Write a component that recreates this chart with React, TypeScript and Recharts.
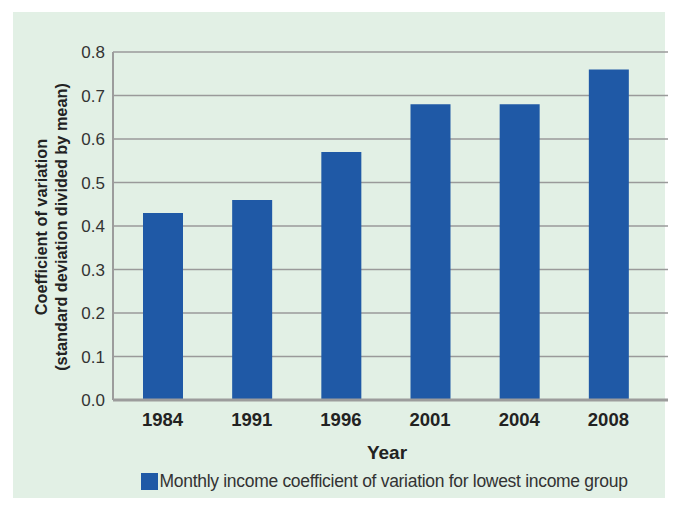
import React from "react";
import { BarChart, Bar, XAxis, YAxis, CartesianGrid } from "recharts";

const years = ["1984", "1991", "1996", "2001", "2004", "2008"];
const coefficients = [0.43, 0.46, 0.57, 0.68, 0.68, 0.76];
const yTicks = [0, 0.1, 0.2, 0.3, 0.4, 0.5, 0.6, 0.7, 0.8];
const seriesName = "Monthly income coefficient of variation for lowest income group";
const yTitle = ["Coefficient of variation", "(standard deviation divided by mean)"];
const xTitle = "Year";

const data = years.map((y, i) => ({ year: y, value: coefficients[i] }));

const FONT = "'Liberation Sans', Arial, Helvetica, sans-serif";
const BLUE = "#1f59a6";
const BG = "#e2f0e5";

const YTitle = (props: any) => {
  const vb = props.viewBox || {};
  const cy = vb.y + vb.height / 2 + 1;
  return (
    <g transform={`translate(0, ${cy}) rotate(-90)`}>
      <text textAnchor="middle" fontFamily={FONT} fontWeight="bold" fontSize={16.3} fill="#222">
        <tspan x={0} y={46.5}>{yTitle[0]}</tspan>
        <tspan x={0} y={66.5}>{yTitle[1]}</tspan>
      </text>
    </g>
  );
};

export default function App() {
  return (
    <div style={{ position: "absolute", left: 0, top: 0, width: 678, height: 510, background: "#fff", fontFamily: FONT }}>
      <div style={{ position: "absolute", left: 13, top: 12, width: 652, height: 486, background: BG }} />
      <div style={{ position: "absolute", left: 0, top: 0 }}>
        <BarChart
          width={678}
          height={510}
          data={data}
          margin={{ top: 52, right: 10, left: 0, bottom: 60 }}
          barSize={40}
        >
          <CartesianGrid vertical={false} stroke="#9a9a9a" strokeWidth={1.5} />
          <XAxis
            dataKey="year"
            height={50}
            padding={{ left: 5, right: 15 }}
            axisLine={{ stroke: "#9c9c9c", strokeWidth: 3 }}
            tickLine={false}
            tickSize={6}
            tickMargin={7}
            tick={{ fontFamily: FONT, fontSize: 18.5, fontWeight: "bold", fill: "#222" }}
            interval={0}
          />
          <YAxis
            width={113}
            domain={[0, 0.8]}
            ticks={yTicks}
            interval={0}
            axisLine={{ stroke: "#9c9c9c", strokeWidth: 2 }}
            tickLine={false}
            tickMargin={2}
            tickFormatter={(v: number) => v.toFixed(1)}
            tick={{ fontFamily: FONT, fontSize: 17, fill: "#333" }}
            label={<YTitle />}
          />
          <Bar dataKey="value" name={seriesName} fill={BLUE} isAnimationActive={false} />
        </BarChart>
      </div>
      <div
        style={{
          position: "absolute",
          left: 387,
          top: 452,
          transform: "translate(-50%, -50%)",
          fontSize: 19,
          fontWeight: "bold",
          color: "#222",
          lineHeight: 1,
        }}
      >
        {xTitle}
      </div>
      <div style={{ position: "absolute", left: 141, top: 473, display: "flex", alignItems: "center", height: 17 }}>
        <div style={{ width: 17, height: 17, background: BLUE, marginRight: 1.5 }} />
        <span style={{ fontSize: 17.5, letterSpacing: -0.3, color: "#333", whiteSpace: "nowrap", lineHeight: 1 }}>
          {seriesName}
        </span>
      </div>
    </div>
  );
}
